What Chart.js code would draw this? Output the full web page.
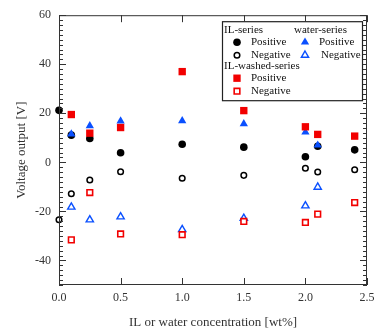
<!DOCTYPE html>
<html>
<head>
<meta charset="utf-8">
<script src="https://cdn.jsdelivr.net/npm/chart.js@4"></script>
<style>
  html, body { margin: 0; padding: 0; background: #fff; }
  #wrap { width: 384px; height: 336px; }
</style>
</head>
<body>
<div id="wrap"><canvas id="chart"></canvas></div>
<script>
// concentrations [wt%] and voltage outputs [V]
const ilConc = [0, 0.1, 0.25, 0.5, 1.0, 1.5, 2.0, 2.1, 2.4];
const ilPositive = [21.2, 11.1, 9.7, 3.9, 7.4, 6.2, 2.3, 6.6, 5.1];
const ilNegative = [-23.4, -12.8, -7.2, -3.8, -6.5, -5.3, -2.4, -3.9, -3.0];

const waterConc = [0.1, 0.25, 0.5, 1.0, 1.5, 2.0, 2.1];
const waterPositive = [11.5, 14.9, 16.8, 16.9, 15.7, 12.3, 7.0];
const waterNegative = [-18.2, -23.4, -22.2, -27.4, -22.8, -17.7, -10.1];

const washedConc = [0.1, 0.25, 0.5, 1.0, 1.5, 2.0, 2.1, 2.4];
const washedPositive = [19.5, 11.9, 14.2, 37.0, 21.1, 14.5, 11.4, 10.7];
const washedNegative = [-31.6, -12.3, -29.2, -29.5, -24.1, -24.5, -21.1, -16.4];

const xTicks = [0, 0.5, 1.0, 1.5, 2.0, 2.5];
const yTicks = [-40, -20, 0, 20, 40, 60];
const yMinorStep = 2;

const FONT = "'Liberation Serif', 'DejaVu Serif', serif";
const INK = '#333';
const RED = '#f20000';
const BLUE = '#0a50ff';

const pts = (xs, ys) => xs.map((x, i) => ({ x: x, y: ys[i] }));

const datasets = [
  { label: 'IL-washed Positive', data: pts(washedConc, washedPositive), pointStyle: 'rect',
    pointRadius: 5.2, backgroundColor: RED, borderColor: RED, pointBorderWidth: 0 },
  { label: 'IL-washed Negative', data: pts(washedConc, washedNegative), pointStyle: 'rect',
    pointRadius: 4, backgroundColor: '#fff', borderColor: RED, pointBorderWidth: 1.6 },
  { label: 'water Positive', data: pts(waterConc, waterPositive), pointStyle: 'triangle',
    pointRadius: 4.8, backgroundColor: BLUE, borderColor: BLUE, pointBorderWidth: 0 },
  { label: 'water Negative', data: pts(waterConc, waterNegative), pointStyle: 'triangle',
    pointRadius: 4.2, backgroundColor: '#fff', borderColor: BLUE, pointBorderWidth: 1.4 },
  { label: 'IL Positive', data: pts(ilConc, ilPositive), pointStyle: 'circle',
    pointRadius: 3.8, backgroundColor: '#000', borderColor: '#000', pointBorderWidth: 0 },
  { label: 'IL Negative', data: pts(ilConc, ilNegative), pointStyle: 'circle',
    pointRadius: 2.8, backgroundColor: '#fff', borderColor: '#000', pointBorderWidth: 1.5 }
].map(d => Object.assign(d, { clip: false }));

// frame, inward ticks and the grouped legend box
const framePlugin = {
  id: 'frame',
  afterDraw(chart) {
    const ctx = chart.ctx;
    const a = chart.chartArea;
    const xs = chart.scales.x, ys = chart.scales.y;
    ctx.save();
    ctx.strokeStyle = INK;
    ctx.lineWidth = 1;
    ctx.strokeRect(a.left + 0.5, a.top + 0.5, a.right - a.left - 1, a.bottom - a.top - 1);

    ctx.beginPath();
    xTicks.forEach(v => {
      const px = Math.round(xs.getPixelForValue(v)) + 0.5;
      ctx.moveTo(px, a.bottom); ctx.lineTo(px, a.bottom - 7);
      ctx.moveTo(px, a.top); ctx.lineTo(px, a.top + 7);
    });
    for (let v = ys.min; v <= ys.max + 1e-9; v += yMinorStep) {
      const py = Math.round(ys.getPixelForValue(v)) + 0.5;
      const len = yTicks.includes(Math.round(v)) ? 7 : 4;
      ctx.moveTo(a.left, py); ctx.lineTo(a.left + len, py);
      ctx.moveTo(a.right, py); ctx.lineTo(a.right - len, py);
    }
    ctx.stroke();

    // legend
    const bx = a.left + 163, by = a.top + 6, bw = 140, bh = 79;
    ctx.fillStyle = '#fff';
    ctx.fillRect(bx, by, bw, bh);
    ctx.strokeStyle = '#222';
    ctx.lineWidth = 1.2;
    ctx.strokeRect(bx + 0.5, by + 0.5, bw, bh);

    ctx.fillStyle = '#111';
    ctx.font = '11px ' + FONT;
    ctx.textBaseline = 'middle';
    ctx.textAlign = 'left';
    const txt = (s, x, y) => ctx.fillText(s, bx + x, by + y);
    const mark = (i, x, y) => {
      const d = chart.data.datasets[i];
      ctx.fillStyle = d.backgroundColor;
      ctx.strokeStyle = d.borderColor;
      ctx.lineWidth = d.pointBorderWidth;
      Chart.helpers.drawPoint(ctx, { pointStyle: d.pointStyle, radius: d.pointRadius, borderWidth: d.pointBorderWidth }, bx + x, by + y);
      ctx.fillStyle = '#111';
    };
    txt('IL-series', 2, 9);
    mark(4, 15, 21); txt('Positive', 29, 21);
    mark(5, 15, 34); txt('Negative', 29, 34);
    txt('water-series', 72, 9);
    mark(2, 83, 21); txt('Positive', 97, 21);
    mark(3, 83, 34); txt('Negative', 99, 34);
    txt('IL-washed-series', 2, 45);
    mark(0, 15, 57); txt('Positive', 29, 57);
    mark(1, 15, 70); txt('Negative', 29, 70);
    ctx.restore();
  }
};

new Chart(document.getElementById('chart'), {
  type: 'scatter',
  data: { datasets: datasets },
  options: {
    responsive: true,
    maintainAspectRatio: false,
    animation: false,
    layout: { padding: { top: 12, right: 17, left: 0, bottom: 0 }, autoPadding: false },
    plugins: { legend: { display: false }, tooltip: { enabled: false } },
    scales: {
      x: {
        type: 'linear', min: 0, max: 2.5,
        afterFit: s => { s.height = 51; },
        afterBuildTicks: s => { s.ticks = xTicks.map(v => ({ value: v })); },
        grid: { display: false, drawTicks: false },
        border: { display: false },
        ticks: { color: INK, padding: 6, font: { family: FONT, size: 12 },
          callback: v => v.toFixed(1), maxRotation: 0 },
        title: { display: true, text: 'IL or water concentration [wt%]', color: INK,
          font: { family: FONT, size: 13 }, padding: { top: 0, bottom: 6 } }
      },
      y: {
        type: 'linear', min: -50, max: 60,
        afterFit: s => { s.width = 59; },
        afterBuildTicks: s => { s.ticks = yTicks.map(v => ({ value: v })); },
        grid: { display: false, drawTicks: false },
        border: { display: false },
        ticks: { color: INK, padding: 8, font: { family: FONT, size: 12 } },
        title: { display: true, text: 'Voltage output [V]', color: INK,
          font: { family: FONT, size: 13 }, padding: { top: 14, bottom: 0 } }
      }
    }
  },
  plugins: [framePlugin]
});
</script>
</body>
</html>
